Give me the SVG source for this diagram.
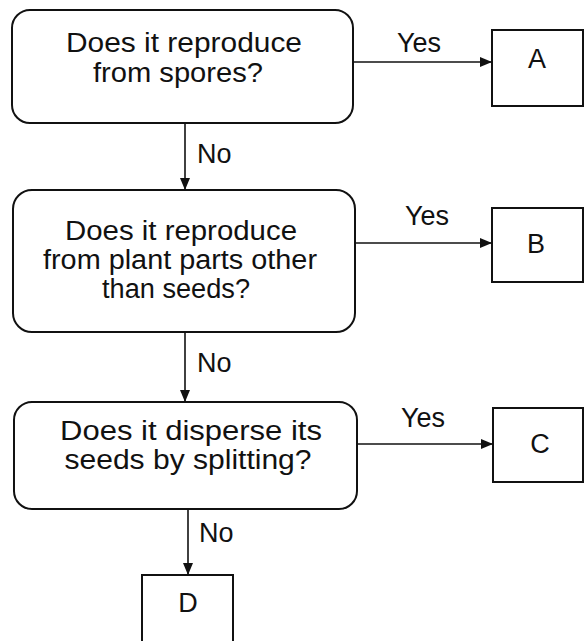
<svg xmlns="http://www.w3.org/2000/svg" width="584" height="641" viewBox="0 0 584 641">
<defs>
<marker id="ah" viewBox="0 0 12 10" refX="12" refY="5" markerWidth="12" markerHeight="10" markerUnits="userSpaceOnUse" orient="auto">
<path d="M0,0 L12,5 L0,10 Z" fill="#111"/>
</marker>
<style>
.box{fill:#fff;stroke:#111;stroke-width:2}
.t{font-family:"Liberation Sans",Arial,sans-serif;font-size:27px;fill:#111;text-anchor:middle}
.lbl{font-family:"Liberation Sans",Arial,sans-serif;font-size:27px;fill:#111}
.c{stroke:#111;stroke-width:1.6;fill:none;marker-end:url(#ah)}
</style>
</defs>
<rect width="584" height="641" fill="#fff"/>
<g id="q1">
<rect class="box" x="12" y="10" width="341" height="113" rx="18"/>
<text class="t" x="184" y="52" textLength="236" lengthAdjust="spacingAndGlyphs">Does it reproduce</text>
<text class="t" x="178" y="82" textLength="170" lengthAdjust="spacingAndGlyphs">from spores?</text>
</g>
<g id="q2">
<rect class="box" x="13" y="190" width="342" height="142" rx="19"/>
<text class="t" x="181" y="240" textLength="232" lengthAdjust="spacingAndGlyphs">Does it reproduce</text>
<text class="t" x="180" y="269" textLength="274" lengthAdjust="spacingAndGlyphs">from plant parts other</text>
<text class="t" x="176" y="298" textLength="148" lengthAdjust="spacingAndGlyphs">than seeds?</text>
</g>
<g id="q3">
<rect class="box" x="14" y="402" width="343" height="107" rx="18"/>
<text class="t" x="191" y="440" textLength="262" lengthAdjust="spacingAndGlyphs">Does it disperse its</text>
<text class="t" x="188" y="469" textLength="247" lengthAdjust="spacingAndGlyphs">seeds by splitting?</text>
</g>
<g id="A">
<rect class="box" x="492" y="30" width="91" height="76"/>
<text class="t" x="537" y="68">A</text>
</g>
<g id="B">
<rect class="box" x="492" y="208" width="91" height="74"/>
<text class="t" x="536" y="253">B</text>
</g>
<g id="C">
<rect class="box" x="493" y="408" width="90" height="74"/>
<text class="t" x="540" y="453">C</text>
</g>
<g id="D">
<rect class="box" x="142" y="575" width="91" height="90"/>
<text class="t" x="188" y="612">D</text>
</g>
<g id="connectors">
<line class="c" x1="353" y1="62" x2="492" y2="62"/>
<line class="c" x1="355" y1="243" x2="492" y2="243"/>
<line class="c" x1="357" y1="444" x2="493" y2="444"/>
<line class="c" x1="185" y1="123" x2="185" y2="190"/>
<line class="c" x1="185" y1="332" x2="185" y2="402"/>
<line class="c" x1="188" y1="509" x2="188" y2="575"/>
<text class="lbl" x="397" y="52">Yes</text>
<text class="lbl" x="405" y="225">Yes</text>
<text class="lbl" x="401" y="427">Yes</text>
<text class="lbl" x="197" y="163">No</text>
<text class="lbl" x="197" y="372">No</text>
<text class="lbl" x="199" y="542">No</text>
</g>
</svg>
